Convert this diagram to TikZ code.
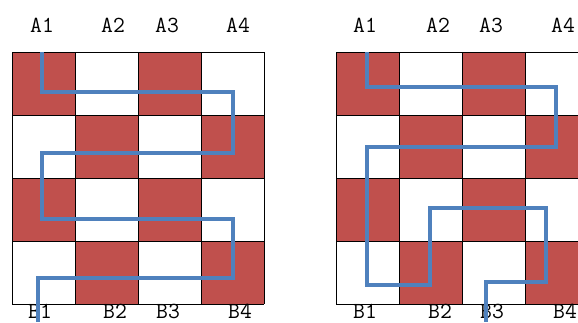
\documentclass[tikz,border=0pt]{standalone}
\usepackage{fontspec}
\definecolor{cellred}{RGB}{192,80,77}
\definecolor{routeblue}{RGB}{79,129,189}
\tikzset{
  gridline/.style={draw=black, line width=0.8pt},
  route/.style={draw=routeblue, line width=3.6pt, line join=miter},
  routeshadow/.style={draw=black!50, line width=3.6pt, opacity=0.45, line join=miter},
  pin/.style={font=\ttfamily\fontsize{23}{24}\selectfont, inner sep=0pt},
}

\begin{document}
\begin{tikzpicture}[x=1pt, y=-1pt]
    \useasboundingbox (0,0) rectangle (578,322);
    \clip (0,0) rectangle (578,322);

    % boards: left one at x=12, right one at x=336
    \foreach \ox in {12,336} {
      \foreach \r in {0,...,3} {
        \foreach \c in {0,...,3} {
          \pgfmathtruncatemacro{\s}{mod(\r+\c,2)}
          \ifnum\s=0
            \fill[cellred] (\ox+63*\c, 52+63*\r) rectangle ++(63,63);
          \fi
        }
      }
      \foreach \k in {0,...,4} {
        \draw[gridline] (\ox+63*\k, 52) -- (\ox+63*\k, 304);
        \draw[gridline] (\ox, 52+63*\k) -- (\ox+252, 52+63*\k);
      }
    }

    % pin labels, left board
	\node[pin] (la1) at (42,25)  {A1};
	\node[pin] (la2) at (113,25) {A2};
	\node[pin] (la3) at (167,25) {A3};
	\node[pin] (la4) at (238,25) {A4};
	\node[pin] (lb1) at (40,311)  {B1};
	\node[pin] (lb2) at (115,311) {B2};
	\node[pin] (lb3) at (168,311) {B3};
	\node[pin] (lb4) at (240,311) {B4};

    % pin labels, right board
	\node[pin] (ra1) at (365,25) {A1};
	\node[pin] (ra2) at (438,25) {A2};
	\node[pin] (ra3) at (491,25) {A3};
	\node[pin] (ra4) at (563,25) {A4};
	\node[pin] (rb1) at (365,311) {B1};
	\node[pin] (rb2) at (440,311) {B2};
	\node[pin] (rb3) at (492,311) {B3};
	\node[pin] (rb4) at (565,311) {B4};

    % route, left board
    \coordinate (l0) at (42,52);
    \coordinate (l1) at (42,92);
    \coordinate (l2) at (233,92);
    \coordinate (l3) at (233,153);
    \coordinate (l4) at (42,153);
    \coordinate (l5) at (42,219);
    \coordinate (l6) at (233,219);
    \coordinate (l7) at (233,278);
    \coordinate (l8) at (38,278);
    \coordinate (l9) at (38,322);
    \draw[routeshadow, shift={(1.5,1.5)}] (l0) -- (l1) -- (l2) -- (l3) -- (l4) -- (l5) -- (l6) -- (l7) -- (l8) -- (l9);
    \draw[route] (l0) -- (l1) -- (l2) -- (l3) -- (l4) -- (l5) -- (l6) -- (l7) -- (l8) -- (l9);

    % route, right board
    \coordinate (r0) at (367,52);
    \coordinate (r1) at (367,87);
    \coordinate (r2) at (556,87);
    \coordinate (r3) at (556,147);
    \coordinate (r4) at (367,147);
    \coordinate (r5) at (367,285);
    \coordinate (r6) at (430,285);
    \coordinate (r7) at (430,208);
    \coordinate (r8) at (546,208);
    \coordinate (r9) at (546,282);
    \coordinate (r10) at (486,282);
    \coordinate (r11) at (486,322);
    \draw[routeshadow, shift={(1.5,1.5)}] (r0) -- (r1) -- (r2) -- (r3) -- (r4) -- (r5) -- (r6) -- (r7) -- (r8) -- (r9) -- (r10) -- (r11);
    \draw[route] (r0) -- (r1) -- (r2) -- (r3) -- (r4) -- (r5) -- (r6) -- (r7) -- (r8) -- (r9) -- (r10) -- (r11);
\end{tikzpicture}
\end{document}
